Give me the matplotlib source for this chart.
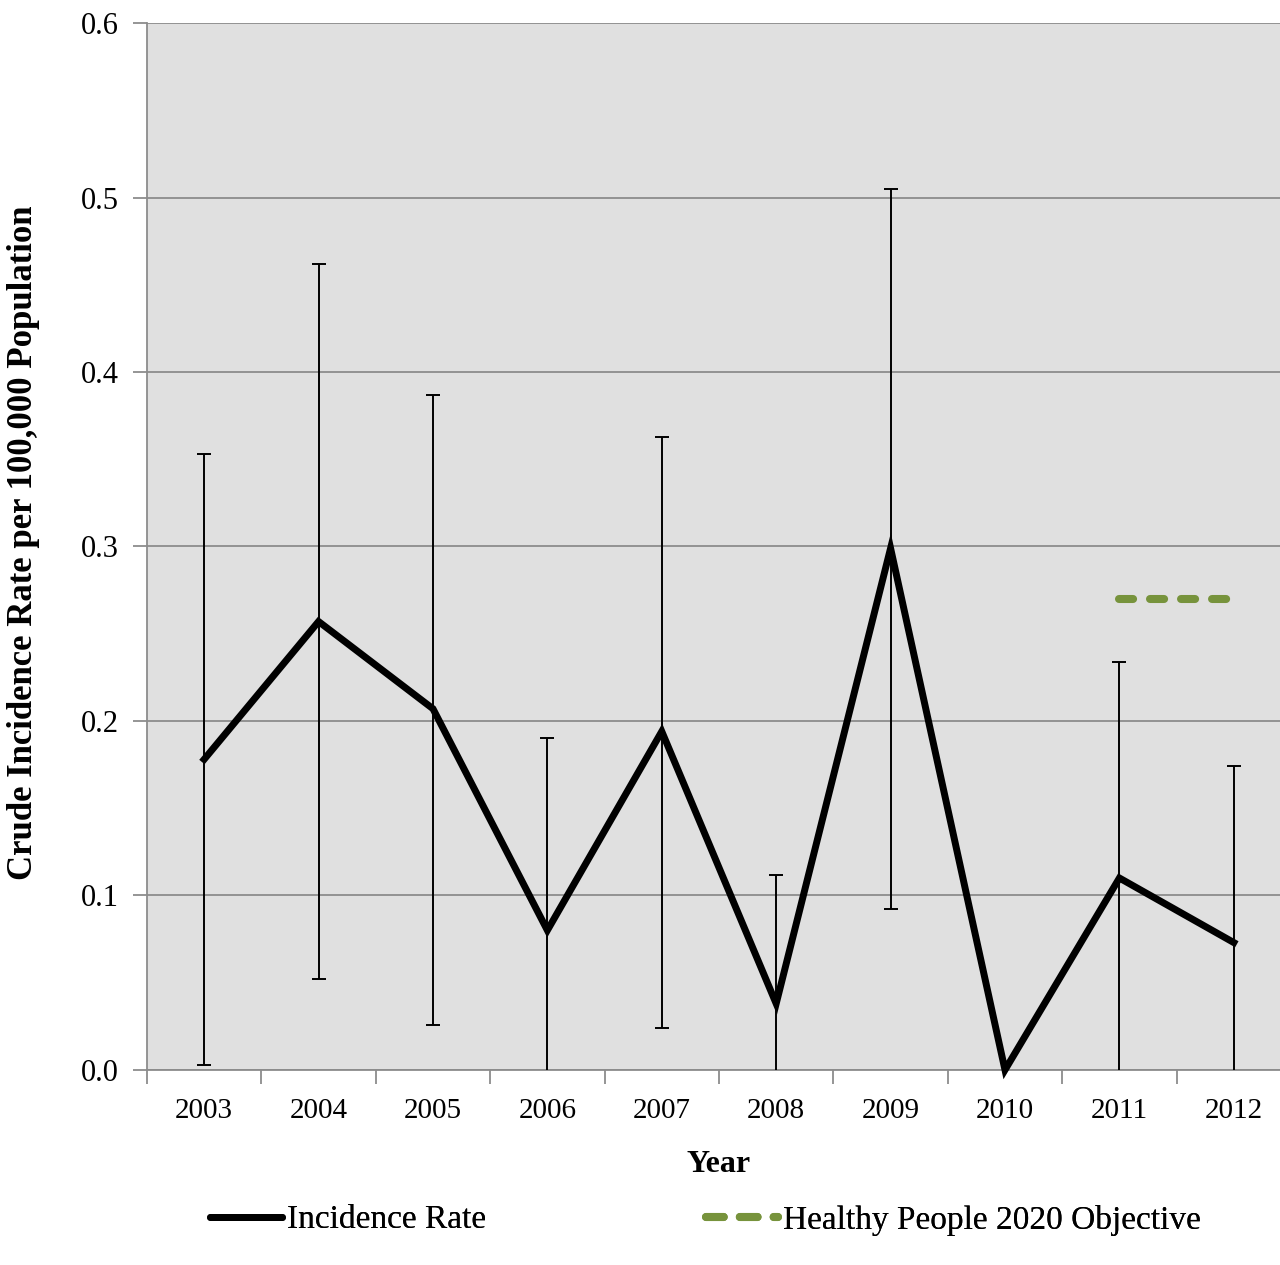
import numpy as np
import matplotlib.pyplot as plt
from matplotlib.lines import Line2D
from matplotlib.ticker import FormatStrFormatter

years = ["2003", "2004", "2005", "2006", "2007", "2008", "2009", "2010", "2011", "2012"]
rate = [0.178, 0.257, 0.207, 0.080, 0.194, 0.038, 0.299, 0.000, 0.110, 0.073]
ci_low = [0.003, 0.052, 0.026, 0.000, 0.024, 0.000, 0.092, np.nan, 0.000, 0.000]
ci_high = [0.353, 0.462, 0.387, 0.190, 0.363, 0.112, 0.505, np.nan, 0.234, 0.174]
hp2020_years = ["2011", "2012"]
hp2020_value = [0.27, 0.27]

plt.rcParams['font.family'] = ['Liberation Serif', 'DejaVu Serif']

grey = "#8c8c8c"
green = "#77933c"

fig = plt.figure(figsize=(12.8, 12.65), dpi=100)
ax = fig.add_axes([0.1148, 0.1542, 0.8938, 0.8276])
ax.set_facecolor("#e0e0e0")

x = np.arange(len(years))
r = np.array(rate)
lo = np.array(ci_low)
hi = np.array(ci_high)
ok = ~np.isnan(lo)

# error bars: stems, then caps (caps sitting on the axis are hidden)
ax.vlines(x[ok], lo[ok], hi[ok], color="black", lw=1.4, zorder=3)
ax.plot(x[ok], hi[ok], ls="none", marker="_", ms=9.5, mew=1.4, color="black", zorder=3)
cap_lo = ok & (np.nan_to_num(lo) > 0)
ax.plot(x[cap_lo], lo[cap_lo], ls="none", marker="_", ms=9.5, mew=1.4, color="black", zorder=3)

ax.plot(x, r, color="black", lw=5, solid_joinstyle="miter", zorder=4, clip_on=False)
hx = [years.index(y) for y in hp2020_years]
ax.plot(hx, hp2020_value, color=green, lw=5.8, ls=(0, (1.75, 2.1)),
        dash_capstyle="round", zorder=4)

ax.set_xlim(-0.5, len(years) - 0.5)
ax.set_ylim(0, 0.6)
ax.set_yticks(np.arange(0, 0.61, 0.1))
ax.yaxis.set_major_formatter(FormatStrFormatter("%.1f"))
ax.grid(axis="y", color=grey, lw=1.3, zorder=0)
ax.set_axisbelow(True)

ax.set_xticks(x)
ax.set_xticklabels(years)
ax.set_xticks(np.arange(-0.5, len(years), 1.0), minor=True)
ax.tick_params(axis="x", which="major", length=0, pad=20, labelsize=21)
ax.tick_params(axis="x", which="minor", length=10, width=1.3, color=grey, direction="out")
ax.tick_params(axis="y", length=10, width=1.3, color=grey, labelsize=22, pad=10)

for s in ["top", "right"]:
    ax.spines[s].set_visible(False)
for s in ["left", "bottom"]:
    ax.spines[s].set_color(grey)
    ax.spines[s].set_linewidth(1.3)

ax.set_xlabel("Year", fontsize=23, fontweight="bold")
ax.xaxis.set_label_coords(0.5, -(1150 - 1070) / 1047)
ax.set_ylabel("Crude Incidence Rate per 100,000 Population", fontsize=25, fontweight="bold")
ax.yaxis.set_label_coords((40 - 147) / 1144, 0.504)

h1 = Line2D([], [], color="black", lw=5, solid_capstyle="round")
h2 = Line2D([], [], color=green, lw=5.8, ls=(0, (2.2, 2.0)), dash_capstyle="round")
leg_y = 1 - 1220 / 1265
for h, lab, x0 in [(h1, "Incidence Rate", 210), (h2, "Healthy People 2020 Objective", 706)]:
    lg = fig.legend([h], [lab], loc="center left", bbox_to_anchor=(x0 / 1280, leg_y),
                    frameon=False, fontsize=24, handlelength=2.15, handletextpad=0.15,
                    borderpad=0, borderaxespad=0)
    fig.add_artist(lg)

plt.savefig("out.png", dpi=100)
plt.close()
